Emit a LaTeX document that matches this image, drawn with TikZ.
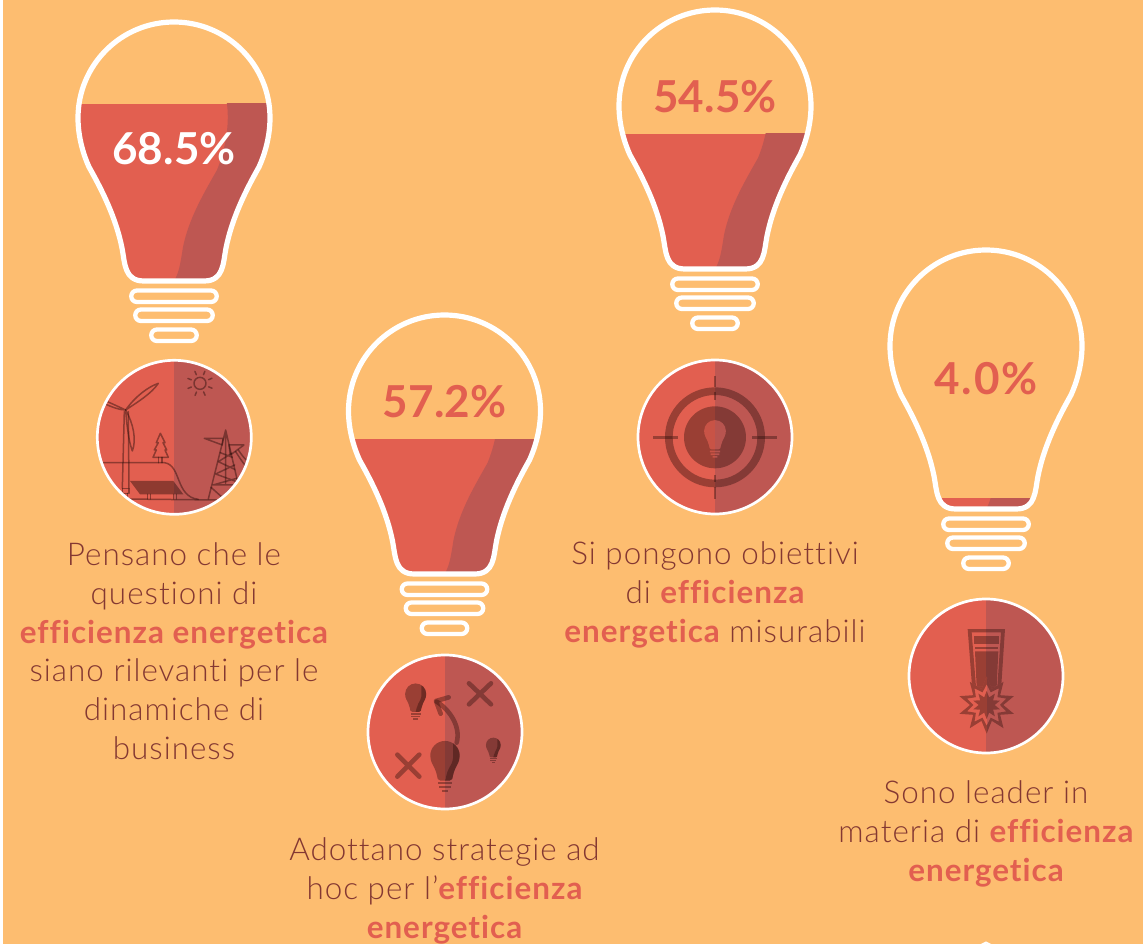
\documentclass[tikz,border=0pt]{standalone}
\usepackage{fontspec}
\setmainfont{Lato}[UprightFont=* Light,BoldFont=* Bold,LetterSpace=3.2,RawFeature={-liga}]
\newfontfamily\pctfont{Lato}[UprightFont=* Bold,LetterSpace=0.5]
\definecolor{bgor}{HTML}{FDBD70}
\definecolor{redl}{HTML}{E25F50}
\definecolor{redd}{HTML}{BE5752}
\definecolor{ink}{HTML}{290D0A}
\definecolor{txtb}{HTML}{843832}
\def\bulbpath{(-96,0) arc (180:360:96) .. controls (96,20) and (90,38) .. (85,49) .. controls (72,72) and (58,100) .. (52,130) .. controls (49,145) and (50,163) .. (30,163) -- (-30,163) .. controls (-50,163) and (-49,145) .. (-52,130) .. controls (-58,100) and (-72,72) .. (-85,49) .. controls (-90,38) and (-96,20) .. (-96,0) -- cycle}
\def\shadepath{(52,-100) -- (53,-14) .. controls (56,10) and (50,35) .. (43,52) .. controls (30,75) and (15,100) .. (9,129) .. controls (6,148) and (5,155) .. (-1,165) -- (120,165) -- (120,-100) -- cycle}
\def\starouter{plot[samples at={0,...,19}] ({275+(mod(\x,2)==0?86:50)*cos(\x*18+90)},{345+(mod(\x,2)==0?86:50)*sin(\x*18+90)}) -- cycle}
\def\starmid{plot[samples at={0,...,19}] ({275+(mod(\x,2)==0?62:40)*cos(\x*18+90)},{345+(mod(\x,2)==0?62:40)*sin(\x*18+90)}) -- cycle}
\def\starcore{plot[samples at={0,...,19}] ({275+(mod(\x,2)==0?42:24)*cos(\x*18+90)},{345+(mod(\x,2)==0?42:24)*sin(\x*18+90)}) -- cycle}
\newcommand{\bigbulb}[3]{%
  \begin{scope}[shift={(#1,#2)}]
    \begin{scope}
      \clip \bulbpath;
      \fill[redl] (-120,#3-#2) rectangle (120,170);
      \clip (-120,#3-#2) rectangle (120,170);
      \fill[redd] \shadepath;
    \end{scope}
    \draw[bulbline] \bulbpath;
    \draw[ringline] (-37,172.5) -- (37,172.5) arc (-90:90:5.75) -- (-37,184) arc (90:270:5.75) -- cycle;
    \draw[ringline] (-33,191.5) -- (33,191.5) arc (-90:90:5.75) -- (-33,203) arc (90:270:5.75) -- cycle;
    \draw[ringline] (-17,211.5) -- (17,211.5) arc (-90:90:5.75) -- (-17,223) arc (90:270:5.75) -- cycle;
  \end{scope}}
\newcommand{\discback}[2]{%
  \fill[redl] (#1-77,#2-77) rectangle (#1,#2+77);
  \fill[redd] (#1,#2-77) rectangle (#1+77,#2+77);}
\newcommand{\iconbulb}[3]{% zoom-coordinates centre, scale
  \begin{scope}[shift={(#1,#2)},scale=#3]
    \fill[iconfill] \bulbpath;
    \begin{scope}
      \clip \bulbpath;
      \fill[iconfill] \shadepath;
    \end{scope}
    \fill[iconfill] (-45,173) rectangle (45,188);
    \fill[iconfill] (-38,197) rectangle (38,212);
    \fill[iconfill] (-22,221) rectangle (22,236);
  \end{scope}}
\tikzset{
  bulbline/.style={draw=white,line width=5.2pt,line join=round},
  ringline/.style={draw=white,line width=4.3pt,line join=round},
  discline/.style={draw=white,line width=2.7pt},
  iconfill/.style={fill=ink,fill opacity=.39},
  iconline/.style={draw=ink,draw opacity=.45,line width=1.5pt,line join=round,line cap=round},
  iconthick/.style={draw=ink,draw opacity=.39,line cap=round},
  caption/.style={align=center,inner sep=0pt,anchor=base,text=txtb,font=\fontsize{31.4}{38.8}\selectfont},
  pct/.style={inner sep=0pt,font=\fontsize{44}{44}\pctfont}
}
\newcommand{\hl}[1]{\textcolor{redl}{\bfseries #1}}
\begin{document}
\begin{tikzpicture}[x=1pt,y=-1pt]
\useasboundingbox (0,0) rectangle (1143,944);
\fill[white] (0,0) rectangle (1143,944);
\fill[bgor] (3,0) rectangle (1143,944);
% bulbs
\bigbulb{174}{118}{104}
\bigbulb{444.5}{411}{439}
\bigbulb{715}{106}{134}
\bigbulb{986}{346}{498}
\draw[white,line width=2pt] (981,945) -- (986,942.5) -- (991,945);
% percent labels
\node[pct,text=white] (p1) at (174,149) {68.5\%};
\node[pct,text=redl] (p2) at (444.5,402) {57.2\%};
\node[pct,text=redl] (p3) at (715,97) {54.5\%};
\node[pct,text=redl] (p4) at (986,379) {\addfontfeature{LetterSpace=4}4.0\%};
% ---- disc 1
\begin{scope}
\clip (174.3,437.3) circle (77);
\discback{174.3}{437.3}
\begin{scope}[shift={(85,350)},x=0.3333pt,y=-0.3333pt]
  \draw[iconline] (118,185) -- (112,415) (130,185) -- (132,415);
  \draw[iconline] (112,415) rectangle (132,430);
  \draw[iconline] (116,430) -- (116,447) (128,430) -- (128,447);
  \draw[iconline] (122,180) .. controls (150,140) and (190,110) .. (220,100) .. controls (200,130) and (160,155) .. (122,180) -- cycle;
  \draw[iconline] (122,180) .. controls (100,170) and (80,160) .. (55,150) (122,180) .. controls (100,180) and (80,170) .. (55,160);
  \draw[iconline] (122,180) .. controls (145,220) and (155,270) .. (142,303) .. controls (130,270) and (125,220) .. (122,180) -- cycle;
  \draw[iconline] (115,447) -- (395,450);
  \draw[iconline] (48,338) -- (238,338) .. controls (290,345) and (270,440) .. (340,448);
  \draw[iconline] (226,250) -- (214,278) -- (220,278) -- (208,300) -- (214,300) -- (204,322) -- (250,322) -- (240,300) -- (245,300) -- (234,278) -- (240,278) -- cycle;
  \draw[iconline] (221,322) -- (221,338) (231,322) -- (231,338);
  \fill[ink,fill opacity=.45] (135,393) -- (265,393) -- (295,433) -- (165,433) -- cycle;
  \draw[iconline] (188,433) -- (188,447) (196,433) -- (196,447) (266,433) -- (266,447) (274,433) -- (274,447);
  \draw[iconline] (345,100) circle[radius=18];
  \foreach \a in {0,45,...,315} \draw[iconline] ({345+28*cos(\a+22)},{100+28*sin(\a+22)}) -- ({345+39*cos(\a+22)},{100+39*sin(\a+22)});
  \draw[iconline] (422,240) -- (370,447) (422,240) -- (470,447) (422,240) -- (422,400);
  \draw[iconline] (358,265) -- (414,265) -- (412,285) -- (358,265);
  \draw[iconline] (477,285) -- (432,285) -- (436,315) -- (477,285);
  \draw[iconline] (406,308) -- (442,322) (440,310) -- (400,335) (400,335) -- (449,358) (449,345) -- (392,372) (392,372) -- (455,395) (455,385) -- (384,405) (384,405) -- (462,405) (378,412) -- (415,445) (465,415) -- (430,447);
  \draw[iconline] (452,305) .. controls (465,325) and (475,340) .. (480,345) (460,300) .. controls (470,315) and (480,328) .. (490,335);
\end{scope}
\end{scope}
\draw[discline] (174.3,437.3) circle (77);
% ---- disc 2
\begin{scope}
\clip (445,732) circle (77);
\discback{445}{732}
\begin{scope}[shift={(355,645)},x=0.3333pt,y=-0.3333pt]
  \iconbulb{182}{147}{0.33}
  \iconbulb{270}{332}{0.46}
  \iconbulb{415}{300}{0.23}
  \draw[iconthick,line width=4.6pt] (342,115) -- (408,178) (408,115) -- (342,178);
  \draw[iconthick,line width=4.6pt] (127,329) -- (193,395) (193,329) -- (127,395);
  \draw[iconthick,line width=4.6pt,line join=round] (305,293) .. controls (318,245) and (285,195) .. (245,170);
  \draw[iconthick,line width=4.6pt,line join=round] (281,157) -- (243,168) -- (257,206);
\end{scope}
\end{scope}
\draw[discline] (445,732) circle (77);
% ---- disc 3
\begin{scope}
\clip (715,437) circle (77);
\discback{715}{437}
\begin{scope}[shift={(625,350)},x=0.3333pt,y=-0.3333pt]
  \fill[iconfill,even odd rule] (270,262) circle[radius=150] (270,262) circle[radius=127];
  \fill[iconfill] (270,262) circle[radius=93];
  \draw[iconthick,line cap=butt,line width=2.7pt] (270,78) -- (270,112) (270,127) -- (270,150) (270,375) -- (270,397) (270,412) -- (270,447) (85,262) -- (158,262) (382,262) -- (456,262);
  \begin{scope}[shift={(270,243)},scale=.34]
    \begin{scope}
      \clip \bulbpath;
      \fill[redl,fill opacity=.65] (-120,-120) rectangle (0,170);
      \fill[redd,fill opacity=.9] (0,-120) rectangle (120,170);
    \end{scope}
    \fill[redl,fill opacity=.65] (-45,173) rectangle (0,188) (-38,197) rectangle (0,212) (-22,221) rectangle (0,236);
    \fill[redd,fill opacity=.9] (45,173) rectangle (0,188) (38,197) rectangle (0,212) (22,221) rectangle (0,236);
  \end{scope}
\end{scope}
\end{scope}
\draw[discline] (715,437) circle (77);
% ---- disc 4
\begin{scope}
\clip (986,676) circle (77);
\discback{986}{676}
\begin{scope}[shift={(895,590)},x=0.3333pt,y=-0.3333pt]
  \fill[iconfill,even odd rule] (218,117) -- (330,117) -- (318,300) -- (232,300) -- cycle (230,127) -- (318,127) -- (307,290) -- (243,290) -- cycle;
  \fill[iconfill] (238,137) rectangle (313,162);
  \fill[iconfill] (240,170) rectangle (310,177);
  \fill[iconfill] (240,184) -- (310,184) -- (305,290) -- (245,290) -- cycle;
  \begin{scope}
    \clip \starouter;
    \fill[redl] (190,250) rectangle (275,440);
    \fill[redd] (275,250) rectangle (370,440);
  \end{scope}
  \fill[iconfill,even odd rule] \starouter \starmid;
  \fill[iconfill] \starcore;
\end{scope}
\end{scope}
\draw[discline] (986,676) circle (77);
% captions
\node[caption] (t1) at (174,759.5) {Pensano che le\\questioni di\\\hl{efficienza energetica}\\siano rilevanti per le\\dinamiche di\\business};
\node[caption] (t2) at (444.5,938.5) {Adottano strategie ad\\hoc per l’\hl{efficienza}\\\hl{energetica}};
\node[caption] (t3) at (715,642.5) {Si pongono obiettivi\\di \hl{efficienza}\\\hl{energetica} misurabili};
\node[caption] (t4) at (986,881.5) {Sono leader in\\materia di \hl{efficienza}\\\hl{energetica}};
\end{tikzpicture}
\end{document}
